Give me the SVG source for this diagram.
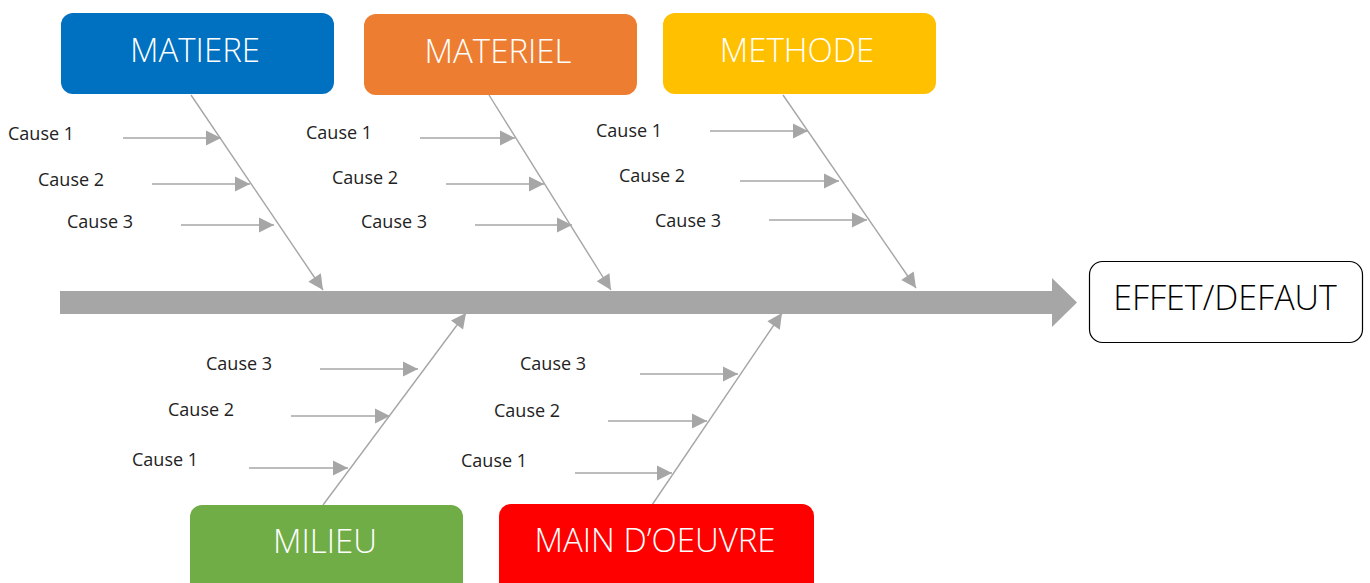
<svg xmlns="http://www.w3.org/2000/svg" width="1370" height="583" viewBox="0 0 1370 583">
<style>
.box{stroke:none}
.title{font-family:"Open Sans","Liberation Sans",sans-serif;font-weight:300;font-size:33px;fill:#FFFFFF;text-anchor:middle}
.cause{font-family:"Open Sans","Liberation Sans",sans-serif;font-size:18px;fill:#222222}
.bone{stroke:#A6A6A6;stroke-width:1.4;fill:none;marker-end:url(#ah)}
.c{stroke:#A6A6A6;stroke-width:1.6;fill:none;marker-end:url(#ah)}
</style>
<defs>
<marker id="ah" markerUnits="userSpaceOnUse" markerWidth="17" markerHeight="17" viewBox="0 0 17 17" refX="16" refY="8.5" orient="auto">
<path d="M1,1 L16,8.5 L1,16 z" fill="#A6A6A6"/>
</marker>
</defs>
<rect width="1370" height="583" fill="#FFFFFF"/>
<g id="connectors">
<polygon points="60,291 1052,291 1052,278 1077,302.5 1052,327 1052,314 60,314" fill="#A6A6A6"/>
<line class="bone" x1="191" y1="95" x2="323" y2="290"/>
<line class="bone" x1="489" y1="95" x2="611" y2="290"/>
<line class="bone" x1="783" y1="95" x2="916" y2="288"/>
<line class="bone" x1="323" y1="505" x2="466" y2="313"/>
<line class="bone" x1="652" y1="505" x2="782" y2="313"/>
<line class="c" x1="123" y1="138" x2="221" y2="138"/>
<line class="c" x1="152" y1="184" x2="250" y2="184"/>
<line class="c" x1="181" y1="225" x2="274" y2="225"/>
<line class="c" x1="420" y1="138" x2="515" y2="138"/>
<line class="c" x1="446" y1="184" x2="544" y2="184"/>
<line class="c" x1="475" y1="225" x2="572" y2="225"/>
<line class="c" x1="710" y1="131" x2="808" y2="131"/>
<line class="c" x1="740" y1="181" x2="839" y2="181"/>
<line class="c" x1="769" y1="220" x2="867" y2="220"/>
<line class="c" x1="320" y1="369" x2="418" y2="369"/>
<line class="c" x1="291" y1="416" x2="390" y2="416"/>
<line class="c" x1="249" y1="468" x2="348" y2="468"/>
<line class="c" x1="640" y1="374" x2="738" y2="374"/>
<line class="c" x1="608" y1="421" x2="707" y2="421"/>
<line class="c" x1="575" y1="473" x2="672" y2="473"/>
</g>
<g id="causes">
<text class="cause" x="8" y="140">Cause 1</text>
<text class="cause" x="38" y="186">Cause 2</text>
<text class="cause" x="67" y="228">Cause 3</text>
<text class="cause" x="306" y="139">Cause 1</text>
<text class="cause" x="332" y="184">Cause 2</text>
<text class="cause" x="361" y="228">Cause 3</text>
<text class="cause" x="596" y="137">Cause 1</text>
<text class="cause" x="619" y="182">Cause 2</text>
<text class="cause" x="655" y="227">Cause 3</text>
<text class="cause" x="206" y="370">Cause 3</text>
<text class="cause" x="168" y="416">Cause 2</text>
<text class="cause" x="132" y="466">Cause 1</text>
<text class="cause" x="520" y="370">Cause 3</text>
<text class="cause" x="494" y="417">Cause 2</text>
<text class="cause" x="461" y="467">Cause 1</text>
</g>
<g id="matiere">
<rect class="box" x="61" y="13" width="273" height="81" rx="12" fill="#0070C0"/>
<text class="title" x="195" y="62">MATIERE</text>
</g>
<g id="materiel">
<rect class="box" x="364" y="14" width="273" height="81" rx="12" fill="#ED7D31"/>
<text class="title" x="498" y="63">MATERIEL</text>
</g>
<g id="methode">
<rect class="box" x="663" y="13" width="273" height="81" rx="12" fill="#FFC000"/>
<text class="title" x="797" y="62">METHODE</text>
</g>
<g id="milieu">
<rect class="box" x="190" y="505" width="273" height="90" rx="12" fill="#70AD47"/>
<text class="title" x="325" y="553">MILIEU</text>
</g>
<g id="main-oeuvre">
<rect class="box" x="499" y="504" width="315" height="91" rx="12" fill="#FF0000"/>
<text class="title" x="655" y="552">MAIN D’OEUVRE</text>
</g>
<g id="effet">
<rect x="1089.5" y="261.5" width="273" height="81" rx="13" fill="#FFFFFF" stroke="#000000" stroke-width="1.2"/>
<text x="1225" y="310" font-family="Open Sans, Liberation Sans, sans-serif" font-weight="300" font-size="34" fill="#000000" text-anchor="middle">EFFET/DEFAUT</text>
</g>
</svg>
